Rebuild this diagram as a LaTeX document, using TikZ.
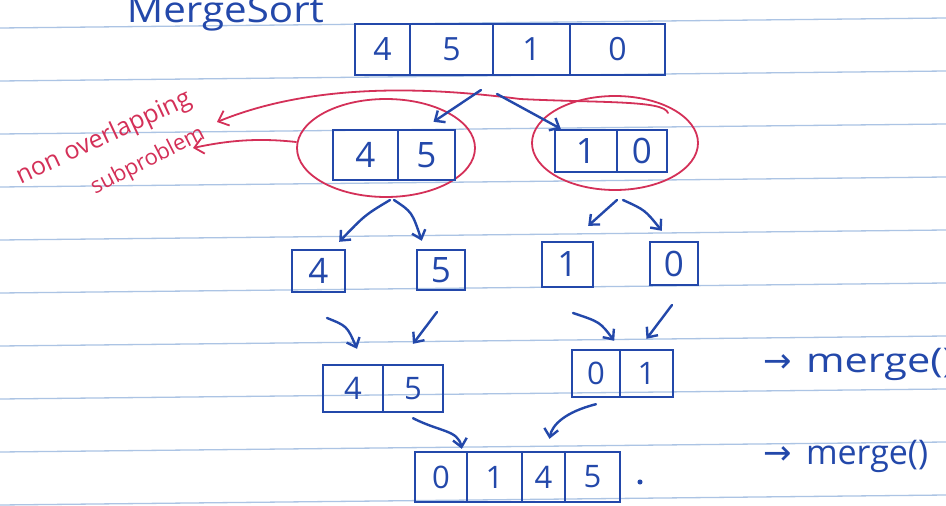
\documentclass[tikz,border=0pt]{standalone}
\usepackage{fontspec}
\setmainfont{Open Sans}
\newfontfamily\arrowfont{DejaVu Sans}
\usetikzlibrary{arrows.meta,shapes.geometric,calc}
\definecolor{ink}{RGB}{35,72,170}
\definecolor{redink}{RGB}{212,48,88}
\definecolor{ruleblue}{RGB}{172,196,228}
\begin{document}
\begin{tikzpicture}[x=1pt,y=-1pt,
  pen/.style={draw=ink, line width=2.4pt, line cap=round, line join=round},
  rpen/.style={draw=redink, line width=1.8pt, line cap=round, line join=round},
  cell/.style={draw=ink, line width=2.4pt, inner sep=0pt, text=ink},
  topcell/.style={cell, font=\fontsize{32}{32}\selectfont},
  midcell/.style={cell, font=\fontsize{35}{35}\selectfont},
  lowcell/.style={cell, font=\fontsize{31}{31}\selectfont},
  barb/.style={-{Straight Barb[length=8pt,width=14pt]}},
  rbarb/.style={-{Straight Barb[length=9pt,width=16pt]}},
  ruleline/.style={draw=ruleblue, line width=1.3pt},
  loop/.style={ellipse, draw=redink, line width=1.8pt, inner sep=0pt}
]
\path[use as bounding box, clip] (0,0) rectangle (946,506);
\fill[white] (0,0) rectangle (946,506);

% ruled notebook lines
\foreach \k in {0,...,9}
  \draw[ruleline] (0,{28+53*\k}) -- (946,{18+53*\k});

% title
\node[text=ink, font=\fontsize{36}{36}\selectfont, anchor=base west, xscale=1.12] (title) at (123,22) {MergeSort};

% red loops around the subproblems
\node[loop, minimum width=178pt, minimum height=98pt] (LE) at (386,148) {};
\node[loop, minimum width=166pt, minimum height=94pt] (RE) at (615,143) {};

% red annotation
\node[text=redink, font=\fontsize{25}{25}\selectfont, rotate=25] (nt1) at (104,138) {non overlapping};
\node[text=redink, font=\fontsize{22}{22}\selectfont, rotate=27] (nt2) at (148,161) {subproblem};
\coordinate (arcS) at (668,113);
\coordinate (tip1) at (217,122);
\coordinate (tip2) at (193,148);
\draw[rpen, rbarb] (arcS) .. controls (664,100) and (600,103) .. (520,99) .. controls (420,86) and (310,84) .. (tip1);
\draw[rpen, rbarb] ([yshift=6pt]LE.west) .. controls (260,138) and (230,140) .. (tip2);

% top array
\node[topcell, minimum width=55pt, minimum height=51pt] (t1) at (382.5,49.5) {4};
\node[topcell, minimum width=83pt, minimum height=51pt] (t2) at (451.5,49.5) {5};
\node[topcell, minimum width=77pt, minimum height=51pt] (t3) at (531.5,49.5) {1};
\node[topcell, minimum width=95pt, minimum height=51pt] (t4) at (617.5,49.5) {0};

% level 2
\node[midcell, minimum width=65pt, minimum height=50pt] (L1) at (365.5,155) {4};
\node[midcell, minimum width=57pt, minimum height=50pt] (L2) at (426.5,155) {5};
\node[midcell, minimum width=62pt, minimum height=42pt] (R1) at (586,151) {1};
\node[midcell, minimum width=50pt, minimum height=42pt] (R2) at (642,151) {0};

% level 3
\node[midcell, minimum width=53pt, minimum height=42pt] (c4) at (318.5,271) {4};
\node[midcell, minimum width=48pt, minimum height=40pt] (c5) at (441,270) {5};
\node[midcell, minimum width=51pt, minimum height=45pt] (c1) at (567.5,264.5) {1};
\node[midcell, minimum width=48pt, minimum height=43pt] (c0) at (674,263.5) {0};

% level 4
\node[lowcell, minimum width=60pt, minimum height=47pt] (M1) at (353,388.5) {4};
\node[lowcell, minimum width=60pt, minimum height=47pt] (M2) at (413,388.5) {5};
\node[lowcell, minimum width=48pt, minimum height=47pt] (N1) at (596,373.5) {0};
\node[lowcell, minimum width=53pt, minimum height=47pt] (N2) at (646.5,373.5) {1};

% bottom array
\node[lowcell, minimum width=52pt, minimum height=50pt] (B1) at (441,477) {0};
\node[lowcell, minimum width=55pt, minimum height=50pt] (B2) at (494.5,477) {1};
\node[lowcell, minimum width=43pt, minimum height=50pt] (B3) at (543.5,477) {4};
\node[lowcell, minimum width=55pt, minimum height=50pt] (B4) at (592.5,477) {5};
\node[circle, fill=ink, inner sep=1.8pt] (dot) at (640,482) {};

% blue arrows
\coordinate (s1) at (481,90);
\coordinate (s2) at (497,94);
\coordinate (s3) at (390,200);
\coordinate (s4) at (394,200);
\coordinate (s5) at (617,200);
\coordinate (s6) at (623,200);
\coordinate (s7) at (327,318);
\coordinate (s8) at (437,312);
\coordinate (s9) at (573,313);
\coordinate (s10) at (672,305);
\draw[pen,barb] (s1) -- ([xshift=7pt,yshift=7pt]L2.north);
\draw[pen,barb] (s2) -- ([xshift=7pt]R1.north west);
\draw[pen,barb] (s3) .. controls (365,215) .. ([xshift=-7pt,yshift=7pt]c4.north east);
\draw[pen,barb] (s4) .. controls (412,212) .. ([xshift=6pt,yshift=8pt]c5.north west);
\draw[pen,barb] (s5) -- ([xshift=-6pt,yshift=15pt]c1.north east);
\draw[pen,barb] (s6) .. controls (645,210) .. ([xshift=13pt,yshift=10pt]c0.north west);
\draw[pen,barb] (s7) .. controls (347,326) .. ([xshift=4pt,yshift=15pt]M1.north);
\draw[pen,barb] (s8) -- ([yshift=20pt]M2.north);
\draw[pen,barb] (s9) .. controls (600,322) .. ([xshift=-7pt,yshift=8pt]N1.north east);
\draw[pen,barb] (s10) -- ([yshift=10pt]N2.north);
\draw[pen,barb] ([yshift=-5pt]M2.south) .. controls (440,432) and (458,430) .. ([xshift=-4pt,yshift=2pt]B2.north west);
\draw[pen,barb] ([yshift=-6pt]N1.south) .. controls (565,412) and (552,425) .. ([xshift=6pt,yshift=12pt]B3.north);

% right-hand labels
\node[text=ink, font=\fontsize{34}{34}\selectfont, anchor=base west] (lab1) at (760,372) {{\arrowfont →}\hspace{14pt}\scalebox{1.22}[1]{merge()}};
\node[text=ink, font=\fontsize{34}{34}\selectfont, anchor=base west] (lab2) at (760,464) {{\arrowfont →}\hspace{14pt}merge()};
\end{tikzpicture}
\end{document}
